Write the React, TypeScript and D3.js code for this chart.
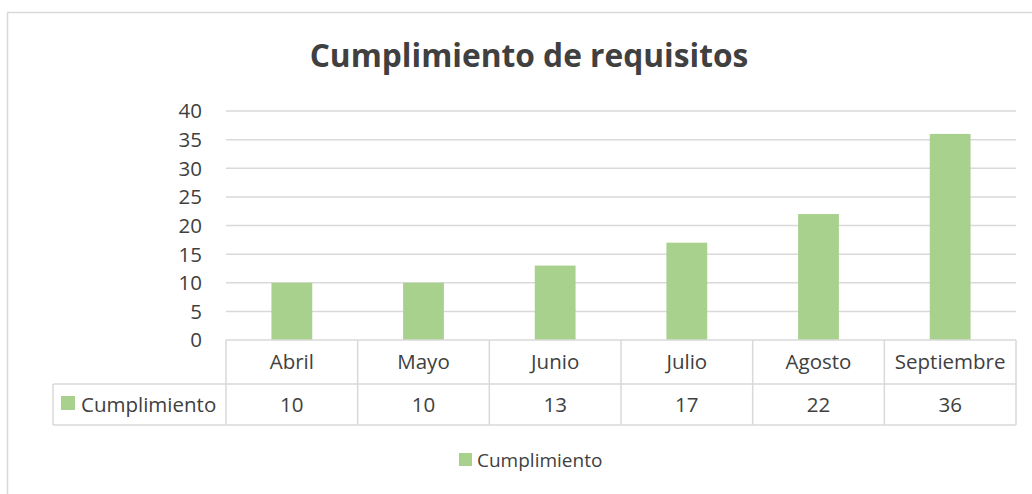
import React from "react";
import * as d3 from "d3";

const months = ["Abril", "Mayo", "Junio", "Julio", "Agosto", "Septiembre"];
const cumplimiento = [10, 10, 13, 17, 22, 36];
const yTicks = [0, 5, 10, 15, 20, 25, 30, 35, 40];
const seriesName = "Cumplimiento";
const title = "Cumplimiento de requisitos";

const W = 1032;
const H = 494;
const FONT = "'Open Sans', 'Noto Sans', sans-serif";
const GRID = "#d9d9d9";
const BAR = "#a9d18e";
const TEXT = "#404040";
const FS = 20.5;

export default function App() {
  const x = d3.scaleBand<string>().domain(months).range([226, 1016]).padding(0);
  const y = d3.scaleLinear().domain([0, 40]).range([340, 111]);
  const bw = x.bandwidth();
  const barW = bw * 0.31;
  const row1Bottom = 384;
  const row2Bottom = 425;
  const legendLeft = 53;

  return (
    <svg
      width={W}
      height={H}
      style={{ position: "absolute", left: 0, top: 0, background: "#fff" }}
      fontFamily={FONT}
    >
      {/* chart frame */}
      <rect x={7.5} y={12.5} width={W + 20} height={H + 20} fill="#fff" stroke={GRID} strokeWidth={1.5} />

      <text x={529} y={67} textAnchor="middle" fontSize={31.7} fontWeight="bold" fill={TEXT}>
        {title}
      </text>

      {/* gridlines + y ticks */}
      {yTicks.map((t) => (
        <g key={t}>
          {t > 0 && (
            <line x1={226} x2={1016} y1={y(t)} y2={y(t)} stroke={GRID} strokeWidth={1.5} />
          )}
          <text x={202} y={y(t)} dy="0.36em" textAnchor="end" fontSize={FS} fill={TEXT}>
            {t}
          </text>
        </g>
      ))}

      {/* bars */}
      {months.map((m, i) => (
        <rect
          key={m}
          x={(x(m) as number) + (bw - barW) / 2}
          y={y(cumplimiento[i])}
          width={barW}
          height={y(0) - y(cumplimiento[i])}
          fill={BAR}
        />
      ))}

      {/* data table */}
      <line x1={226} x2={1016} y1={y(0)} y2={y(0)} stroke={GRID} strokeWidth={1.5} />
      <line x1={legendLeft} x2={1016} y1={row1Bottom} y2={row1Bottom} stroke={GRID} strokeWidth={1.5} />
      <line x1={legendLeft} x2={1016} y1={row2Bottom} y2={row2Bottom} stroke={GRID} strokeWidth={1.5} />
      <line x1={legendLeft} x2={legendLeft} y1={row1Bottom} y2={row2Bottom} stroke={GRID} strokeWidth={1.5} />
      {months.concat([""]).map((m, i) => {
        const xx = i < months.length ? (x(m) as number) : 1016;
        return <line key={"v" + i} x1={xx} x2={xx} y1={y(0)} y2={row2Bottom} stroke={GRID} strokeWidth={1.5} />;
      })}
      {months.map((m, i) => (
        <g key={"t" + m}>
          <text x={(x(m) as number) + bw / 2} y={(y(0) + row1Bottom) / 2} dy="0.36em" textAnchor="middle" fontSize={FS} fill={TEXT}>
            {m}
          </text>
          <text x={(x(m) as number) + bw / 2} y={(row1Bottom + row2Bottom) / 2} dy="0.36em" textAnchor="middle" fontSize={FS} fill={TEXT}>
            {cumplimiento[i]}
          </text>
        </g>
      ))}
      <rect x={61} y={396} width={14} height={14} fill={BAR} />
      <text x={81} y={(row1Bottom + row2Bottom) / 2} dy="0.36em" fontSize={FS} fill={TEXT}>
        {seriesName}
      </text>

      {/* legend */}
      <rect x={459} y={453} width={13} height={13} fill={BAR} />
      <text x={477} y={460} dy="0.36em" fontSize={19} fill={TEXT}>
        {seriesName}
      </text>
    </svg>
  );
}
